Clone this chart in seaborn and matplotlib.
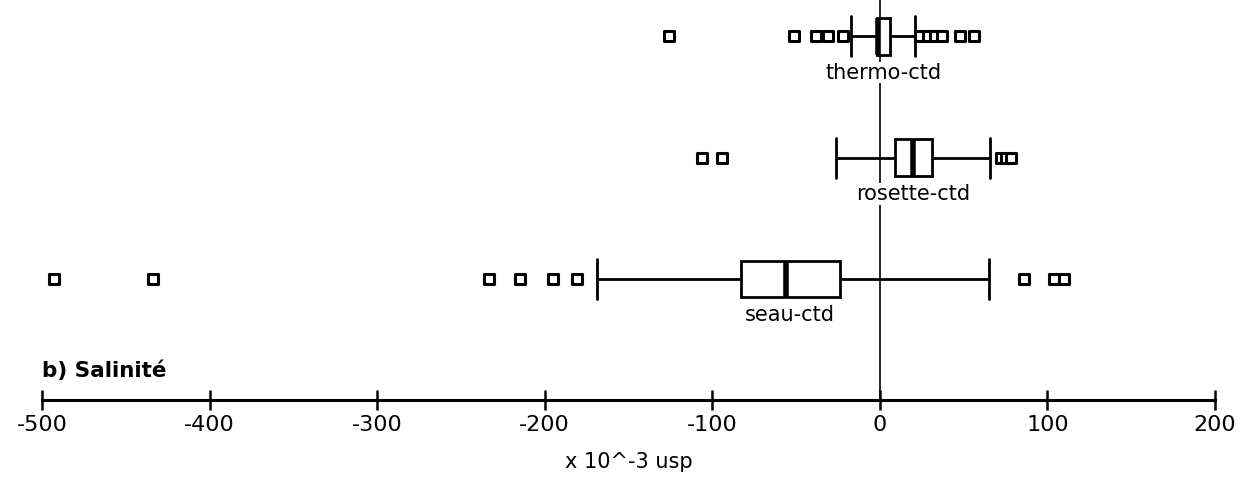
import numpy as np
import pandas as pd
import matplotlib
matplotlib.use("Agg")
import matplotlib.pyplot as plt
import seaborn as sns

# ---- data (x 10^-3 usp) ----
groups = ["thermo-ctd", "rosette-ctd", "seau-ctd"]
whis_low = [-17, -26, -169]
q1 = [-2, 9, -83]
median = [-1, 20, -56]
q3 = [6, 31, -24]
whis_high = [21, 66, 65]
fliers_thermo = [-126, -51, -38, -31, -22, 24, 29, 33, 37, 48, 56]
fliers_rosette = [-106, -94, 72, 75, 78]
fliers_seau = [-493, -434, -233, -215, -195, -181, 86, 104, 110]
x_ticks = [-500, -400, -300, -200, -100, 0, 100, 200]
panel_title = "b) Salinité"
x_label = "x 10^-3 usp"

sns.set_style("white")
plt.rcParams["font.family"] = ["DejaVu Sans"]
plt.rcParams["text.color"] = "black"
plt.rcParams["axes.labelcolor"] = "black"
plt.rcParams["xtick.color"] = "black"
plt.rcParams["axes.edgecolor"] = "black"

# five-number summaries -> box data
rows = []
for g, a, b, c, d, e in zip(groups, whis_low, q1, median, q3, whis_high):
    for v in (a, b, c, d, e):
        rows.append((g, v))
box_df = pd.DataFrame(rows, columns=["group", "value"])

fl_rows = []
for g, fl in zip(groups, [fliers_thermo, fliers_rosette, fliers_seau]):
    for v in fl:
        fl_rows.append((g, v))
fl_df = pd.DataFrame(fl_rows, columns=["group", "value"])

fig = plt.figure(figsize=(12.44, 4.78), dpi=100)
ax = fig.add_axes([42 / 1244, 78 / 478, 1173 / 1244, 400 / 478])

ax.axvline(0, color="black", lw=1.2, zorder=0)

sns.boxplot(data=box_df, x="value", y="group", order=groups, orient="h",
            whis=(0, 100), width=0.30, color="white", linecolor="black",
            linewidth=2, fliersize=0, capwidths=0.33,
            medianprops={"linewidth": 4, "color": "black"},
            boxprops={"facecolor": "white", "edgecolor": "black", "linewidth": 2},
            ax=ax, zorder=2)

sns.stripplot(data=fl_df, x="value", y="group", order=groups, orient="h",
              jitter=False, marker="s", size=7.5, color="white",
              edgecolor="black", linewidth=2.2, ax=ax, zorder=3)

for i, g in enumerate(groups):
    cx = (q1[i] + q3[i]) / 2
    ax.text(cx, i + 0.30, g, ha="center", va="center", fontsize=15,
            color="black",
            bbox=dict(facecolor="white", edgecolor="none", pad=0.5), zorder=4)

ax.set_xlim(-500, 200)
ax.set_ylim(3.0, -0.3)
ax.set_xticks(x_ticks)
ax.set_xticklabels([str(t) for t in x_ticks])
ax.set_yticks([])
ax.set_ylabel("")
ax.set_xlabel(x_label, fontsize=15, labelpad=12, color="black")
for s in ["top", "right", "left"]:
    ax.spines[s].set_visible(False)
ax.spines["bottom"].set_linewidth(2.2)
ax.spines["bottom"].set_color("black")
ax.tick_params(axis="x", direction="inout", length=14, width=1.8,
               labelsize=16, pad=4, bottom=True, colors="black")

ax.text(-500, 2.76, panel_title, ha="left", va="center", fontsize=15.5,
        fontweight="bold", color="black")

fig.savefig("out.png", dpi=100)
